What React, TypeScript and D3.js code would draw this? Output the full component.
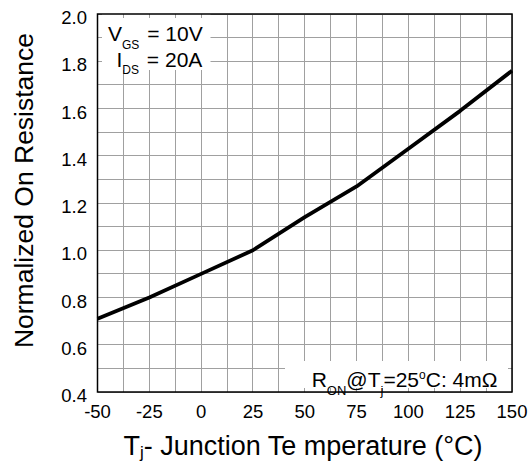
import React from "react";
import * as d3 from "d3";

// Junction temperature (°C) vs normalized on-resistance
const temperatures = [-50, -25, 0, 25, 50, 75, 100, 125, 150];
const normalizedRon = [0.71, 0.8, 0.9, 1.0, 1.14, 1.27, 1.43, 1.59, 1.76];

const xTickValues = [-50, -25, 0, 25, 50, 75, 100, 125, 150];
const yTickValues = [0.4, 0.6, 0.8, 1.0, 1.2, 1.4, 1.6, 1.8, 2.0];
const xGridValues = d3.range(-50, 150.001, 12.5);
const yGridValues = d3.range(0.4, 2.0001, 0.1);

const W = 531;
const H = 464;
const plot = { left: 97.5, right: 512, top: 14, bottom: 392 };
const FONT = "'Liberation Sans', Arial, sans-serif";

export default function App() {
  const x = d3.scaleLinear().domain([-50, 150]).range([plot.left, plot.right]);
  const y = d3.scaleLinear().domain([0.4, 2.0]).range([plot.bottom, plot.top]);

  const points: [number, number][] = temperatures.map((t, i) => [t, normalizedRon[i]]);
  const line = d3
    .line<[number, number]>()
    .x((d) => x(d[0]))
    .y((d) => y(d[1]))
    .curve(d3.curveLinear);

  const gridColor = "#a0a0a0";
  const tickLen = 4;

  return (
    <svg
      width={W}
      height={H}
      viewBox={`0 0 ${W} ${H}`}
      style={{ position: "absolute", left: 0, top: 0, background: "#fff" }}
      fontFamily={FONT}
    >
      <rect x={0} y={0} width={W} height={H} fill="#fff" />

      {/* grid */}
      <g stroke={gridColor} strokeWidth={1} shapeRendering="crispEdges">
        {xGridValues.map((v) => (
          <line key={`gx${v}`} x1={x(v)} x2={x(v)} y1={plot.top} y2={plot.bottom} />
        ))}
        {yGridValues.map((v) => (
          <line key={`gy${v}`} x1={plot.left} x2={plot.right} y1={y(v)} y2={y(v)} />
        ))}
      </g>

      {/* annotation backgrounds */}
      <rect x={plot.left} y={plot.top} width={113} height={56} fill="#fff" />
      <rect x={285} y={361} width={plot.right - 285} height={plot.bottom - 361} fill="#fff" />

      {/* inner ticks */}
      <g stroke={gridColor} strokeWidth={1} shapeRendering="crispEdges">
        {xGridValues.map((v) => (
          <g key={`tx${v}`}>
            <line x1={x(v)} x2={x(v)} y1={plot.bottom} y2={plot.bottom - tickLen} />
            <line x1={x(v)} x2={x(v)} y1={plot.top} y2={plot.top + tickLen} />
          </g>
        ))}
        {yGridValues.map((v) => (
          <g key={`ty${v}`}>
            <line x1={plot.left} x2={plot.left + tickLen} y1={y(v)} y2={y(v)} />
            <line x1={plot.right} x2={plot.right - tickLen} y1={y(v)} y2={y(v)} />
          </g>
        ))}
      </g>

      {/* curve */}
      <path d={line(points) ?? ""} fill="none" stroke="#000" strokeWidth={3.8} strokeLinejoin="round" />

      {/* frame */}
      <rect
        x={plot.left}
        y={plot.top}
        width={plot.right - plot.left}
        height={plot.bottom - plot.top}
        fill="none"
        stroke="#000"
        strokeWidth={1.5}
      />

      {/* tick labels */}
      <g fontSize={18.5} fill="#000">
        {xTickValues.map((v) => (
          <text key={`lx${v}`} x={x(v)} y={418} textAnchor="middle">
            {v}
          </text>
        ))}
        {yTickValues.map((v) => (
          <text key={`ly${v}`} x={87} y={y(v) + 10} textAnchor="end">
            {v.toFixed(1)}
          </text>
        ))}
      </g>

      {/* conditions */}
      <text x={108} y={40.7} fontSize={21}>
        V
        <tspan fontSize={12} dy={8.6}>GS</tspan>
        <tspan dy={-8.6} dx={2}> = 10V</tspan>
      </text>
      <text x={116.5} y={66.7} fontSize={21}>
        I
        <tspan fontSize={12} dy={7.4}>DS</tspan>
        <tspan dy={-7.4} dx={2}> = 20A</tspan>
      </text>
      <text x={311.7} y={386.7} fontSize={21}>
        R
        <tspan fontSize={13} dy={8}>ON</tspan>
        <tspan dy={-8}>@T</tspan>
        <tspan fontSize={13} dy={8}>j</tspan>
        <tspan dy={-8}>=25</tspan>
        <tspan fontSize={12} dy={-8}>o</tspan>
        <tspan dy={8}>C: 4mΩ</tspan>
      </text>

      {/* axis titles */}
      <text x={303} y={455} fontSize={27} textAnchor="middle">
        T<tspan fontSize={17} dy={3}>j</tspan>
        <tspan dy={-3}>- Junction Te mperature (°C)</tspan>
      </text>
      <text
        transform={`translate(32.5, 190.5) rotate(-90)`}
        fontSize={26.5}
        textAnchor="middle"
      >
        Normalized On Resistance
      </text>
    </svg>
  );
}
